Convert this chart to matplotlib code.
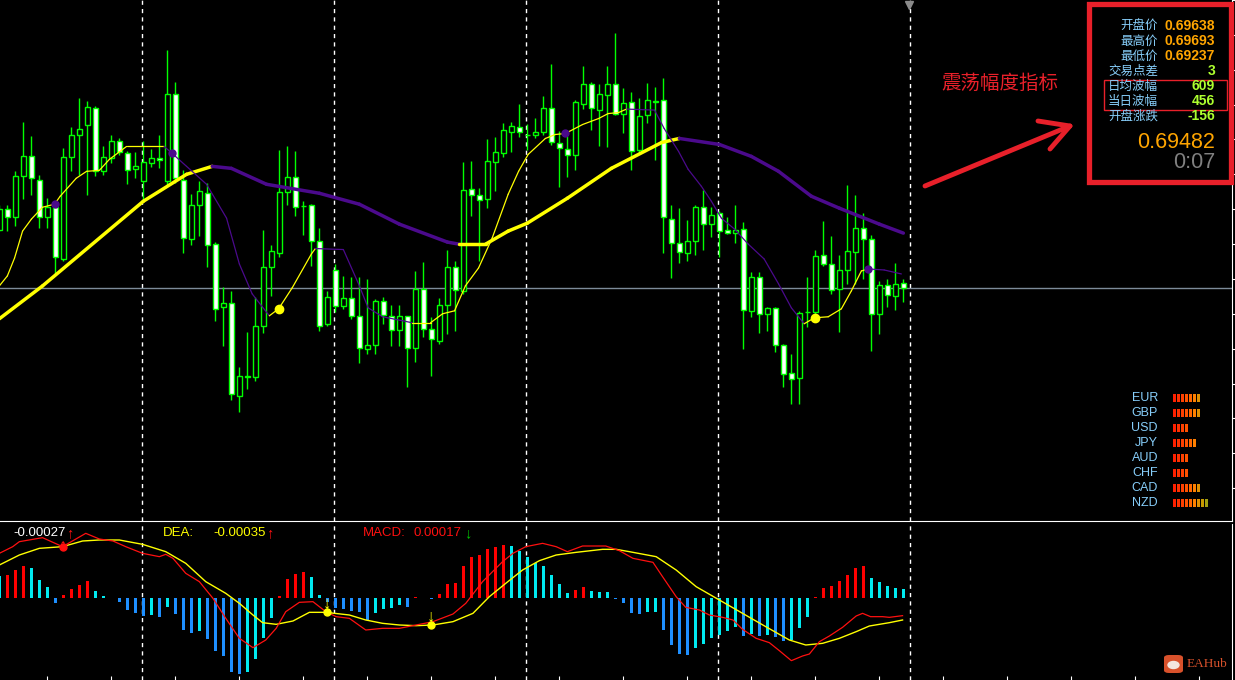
import matplotlib
matplotlib.use('Agg')
import matplotlib.pyplot as plt
import numpy as np
from matplotlib.collections import LineCollection
from matplotlib.patches import Rectangle, FancyBboxPatch, Ellipse

W, H = 1235, 680

# H1 candles, prices in points (1 point = 0.00001)
opens = [69599, 69641, 69625, 69707, 69747, 69699, 69624, 69645, 69541, 69745,
         69789, 69809, 69843, 69716, 69743, 69777, 69753, 69721, 69697, 69733,
         69743, 69696, 69871, 69699, 69581, 69648, 69673, 69571, 69443, 69451,
         69265, 69304, 69303, 69405, 69523, 69553, 69675, 69705, 69646, 69648,
         69577, 69409, 69517, 69445, 69461, 69425, 69359, 69367, 69455, 69426,
         69397, 69425, 69361, 69479, 69399, 69375, 69447, 69523, 69476, 69681,
         69669, 69661, 69735, 69753, 69795, 69805, 69788, 69789, 69795, 69843,
         69773, 69761, 69749, 69851, 69891, 69839, 69869, 69891, 69831, 69855,
         69759, 69829, 69856, 69859, 69621, 69573, 69553, 69577, 69645, 69611,
         69633, 69599, 69593, 69601, 69436, 69503, 69429, 69441, 69367, 69311,
         69301, 69433, 69433, 69549, 69529, 69479, 69517, 69555, 69603, 69581,
         69429, 69487, 69465, 69491]
highs = [69649, 69649, 69717, 69815, 69787, 69709, 69663, 69653, 69763, 69806,
         69863, 69857, 69848, 69766, 69789, 69783, 69756, 69755, 69776, 69761,
         69788, 69959, 69896, 69719, 69671, 69696, 69693, 69575, 69483, 69476,
         69323, 69393, 69463, 69599, 69569, 69759, 69766, 69756, 69657, 69651,
         69603, 69476, 69529, 69506, 69503, 69503, 69499, 69459, 69463, 69448,
         69448, 69426, 69516, 69534, 69424, 69461, 69559, 69536, 69735, 69737,
         69683, 69781, 69784, 69814, 69816, 69851, 69811, 69824, 69868, 69931,
         69796, 69786, 69859, 69928, 69896, 69891, 69928, 69993, 69884, 69876,
         69864, 69894, 69886, 69904, 69648, 69643, 69619, 69649, 69679, 69644,
         69636, 69624, 69649, 69614, 69513, 69514, 69444, 69443, 69369, 69349,
         69435, 69504, 69559, 69616, 69586, 69548, 69688, 69668, 69632, 69589,
         69496, 69499, 69531, 69499]
lows = [69596, 69596, 69607, 69661, 69669, 69603, 69603, 69509, 69536, 69716,
        69709, 69669, 69706, 69709, 69733, 69748, 69691, 69703, 69659, 69724,
        69723, 69689, 69693, 69553, 69569, 69586, 69523, 69416, 69366, 69256,
        69233, 69279, 69296, 69391, 69466, 69544, 69649, 69626, 69589, 69526,
        69396, 69406, 69433, 69439, 69419, 69331, 69349, 69349, 69409, 69366,
        69366, 69283, 69333, 69384, 69305, 69369, 69389, 69395, 69469, 69626,
        69536, 69643, 69676, 69744, 69755, 69784, 69759, 69783, 69789, 69769,
        69684, 69704, 69719, 69841, 69798, 69766, 69765, 69829, 69793, 69719,
        69753, 69813, 69739, 69553, 69501, 69531, 69537, 69549, 69559, 69585,
        69544, 69591, 69573, 69359, 69424, 69391, 69395, 69353, 69283, 69249,
        69249, 69403, 69423, 69526, 69469, 69393, 69489, 69489, 69499, 69355,
        69389, 69444, 69437, 69453]
closes = [69641, 69625, 69707, 69747, 69702, 69624, 69645, 69544, 69745, 69789,
          69801, 69845, 69716, 69745, 69777, 69755, 69719, 69727, 69734, 69743,
          69739, 69871, 69703, 69583, 69648, 69677, 69569, 69439, 69451, 69268,
          69305, 69304, 69406, 69523, 69556, 69674, 69704, 69645, 69647, 69577,
          69406, 69463, 69446, 69461, 69426, 69361, 69368, 69455, 69427, 69397,
          69425, 69361, 69479, 69399, 69379, 69447, 69523, 69477, 69679, 69669,
          69659, 69736, 69754, 69799, 69808, 69795, 69788, 69794, 69844, 69774,
          69763, 69749, 69856, 69891, 69843, 69872, 69891, 69831, 69854, 69757,
          69827, 69859, 69857, 69624, 69573, 69554, 69577, 69644, 69611, 69628,
          69597, 69593, 69599, 69437, 69503, 69429, 69441, 69367, 69309, 69299,
          69431, 69433, 69547, 69529, 69477, 69517, 69557, 69603, 69581, 69429,
          69487, 69467, 69489, 69482]
last_close = 69482

# slow and fast trend averages (bar index, points)
slow_x = [0, 5.4, 18, 23.4, 26.6, 29, 33.4, 40, 45, 50, 56, 57.4, 60.8, 63.6, 66,
          71, 76.5, 82.8, 85, 90, 94, 97.4, 101.5, 105, 110, 113]
slow_v = [69420, 69486, 69656, 69710, 69726, 69722, 69690, 69672, 69650, 69610,
          69574, 69570, 69570, 69596, 69612, 69662, 69722, 69774, 69782, 69770,
          69746, 69716, 69666, 69642, 69610, 69592]
fast_x = [0, 1, 1.9, 2.9, 4, 5.4, 6.9, 7.6, 9.6, 10.9, 12.5, 13.75, 15.9, 20.6,
          21.6, 23.4, 25.9, 28.4, 30, 31.6, 33.75, 34.9, 36.6, 39, 39.5, 43, 44.9,
          46.1, 47.9, 50.4, 51.6, 53.9, 55.4, 56.9, 58.25, 59.9, 61.6, 63.6, 64.9,
          66.1, 68.25, 69.5, 70.75, 72.9, 74.9, 76.1, 77.4, 78.4, 81.9, 83.1, 84.9,
          86.1, 87.75, 89, 90.25, 91.9, 93.6, 95.6, 97.4, 99, 100.6, 101.9, 103.6,
          105.25, 106.5, 107.75, 108.6, 110.6, 112.75]
fast_v = [69486, 69506, 69542, 69596, 69620, 69644, 69650, 69666, 69702, 69716,
          69718, 69740, 69766, 69766, 69752, 69726, 69690, 69622, 69530, 69470,
          69426, 69440, 69482, 69550, 69561, 69559, 69490, 69442, 69424, 69416,
          69412, 69412, 69430, 69436, 69486, 69522, 69582, 69670, 69716, 69750,
          69782, 69790, 69792, 69810, 69822, 69832, 69834, 69841, 69839, 69802,
          69756, 69720, 69686, 69656, 69622, 69600, 69570, 69540, 69490, 69442,
          69410, 69422, 69424, 69440, 69476, 69516, 69520, 69518, 69510]
turn_up_x = [34.9, 101.9]
turn_up_v = [69440, 69422]
turn_dn_x = [6.9, 21.6, 70.75, 108.6]
turn_dn_v = [69650, 69752, 69792, 69520]

# MACD panel, values in 1e-5
hist = [33, 34.5, 42, 48, 44.5, 27, 17, -7, 4.5, 13.5, 19.5, 25.5, 10.5, 3.5, 0.5,
        -6.5, -18, -22, -26.5, -25.5, -28, -13, -24.5, -48, -52, -49, -61.5, -79.5,
        -86.5, -110.5, -113.5, -110.5, -91.5, -59.5, -30.5, 3, 28.5, 35.5, 38.5,
        31.5, 4.5, -5.5, -14.5, -16.5, -19, -20.5, -33, -22, -16.5, -15.5, -10.5,
        -13.5, 2, -0.5, -1.5, 6, 20.5, 22, 48, 62, 64.5, 73.5, 76.5, 79.5, 78, 71,
        62, 53, 48, 34.5, 21, 8, 12, 16.5, 10.5, 9.5, 9.5, -1.5, -7, -22, -24,
        -20.5, -20.5, -48, -70.5, -84, -85.5, -74.5, -69, -59.5, -55.5, -49.5, -43,
        -57, -54, -57, -55.5, -58, -64, -63, -44.5, -28, 1, 14.5, 18, 25.5, 34.5,
        44.5, 48, 29.5, 24, 18, 15, 13.5]
dif_x = [0, 1.67, 2.5, 5.4, 7.9, 10.8, 12.5, 14.2, 15.8, 17.9, 20, 20.8, 21.7, 23.3,
         25, 26.7, 28.3, 30, 31.7, 33.3, 34.6, 35.8, 37.5, 39.2, 40.8, 42.1, 43.75,
         45.8, 47.9, 50, 52.1, 54.2, 56.7, 58.3, 60.4, 62.9, 64.2, 65.8, 67.9, 69.6,
         71, 72.9, 75.8, 77.5, 79.2, 81.7, 82.9, 84.6, 85.8, 87.5, 88.75, 90.4,
         91.7, 92.9, 94.6, 96.25, 97.5, 99, 100.4, 101.25, 102.5, 103.75, 105.4,
         107.1, 107.9, 108.9, 110.4, 111.25, 112.9]
dif_v = [67, 77, 84.5, 90.5, 77, 97, 88.5, 85.5, 77, 67, 62, 65.5, 59.5, 37, 24.5,
         -0.5, -30.5, -60.5, -74.5, -63, -45.5, -20.5, -6.5, -5.5, -20.5, -28,
         -30.5, -48, -45.5, -45.5, -40.5, -35.5, -24, -8, 24.5, 54.5, 67, 77, 82,
         77, 69.5, 78, 78, 71, 59.5, 53.5, 32, 2, -14, -18, -25.5, -29, -33, -47,
         -60.5, -67, -79, -94, -87, -84, -65.5, -57, -44, -27, -23, -28, -28, -29,
         -26.5]
dea_x = [0, 2.5, 5, 7.9, 10.4, 12.5, 15, 17.9, 20.8, 23.3, 25.8, 28.3, 30, 31.7,
         32.9, 34.6, 36.7, 38.75, 40.8, 43.75, 45.8, 47.9, 50, 52.1, 54.2, 56.7,
         59.2, 61.25, 63.3, 65.4, 67.5, 69.6, 72.1, 75.4, 77.1, 78.75, 82.1, 84.6,
         87.1, 90, 92.9, 95.8, 98.75, 100.8, 102.9, 105, 107.1, 108.75, 111.25,
         112.9]
dea_v = [49.5, 64.5, 74.5, 77, 85.5, 87, 87, 80.5, 69.5, 52, 24.5, 7, -8, -25.5,
         -37, -39.5, -34.5, -21.5, -21.5, -25.5, -33, -38, -40.5, -41.5, -40.5,
         -35.5, -23, 2, 22, 42, 56, 64.5, 68.5, 73, 73, 69.5, 62, 42, 17, -3, -23,
         -43, -63, -70.5, -68, -60.5, -50.5, -42, -37, -33]
cross_up = [(7.9, 77)]
cross_dn = [(40.9, -21), (53.9, -40.5)]

day_starts = [18, 42, 66, 90, 114]

info_labels = ['开盘价', '最高价', '最低价', '交易点差', '日均波幅', '当日波幅', '开盘涨跌']
info_values = ['0.69638', '0.69693', '0.69237', '3', '609', '456', '-156']
last_price = '0.69482'
bar_timer = '0:07'
currencies = ['EUR', 'GBP', 'USD', 'JPY', 'AUD', 'CHF', 'CAD', 'NZD']
strength = [7, 7, 4, 6, 4, 4, 7, 9]

GREEN = '#00ff00'
YEL = '#ffff00'
PURP = '#4b0a8c'
RED = '#e8202a'
CJK = ['Noto Sans CJK SC', 'DejaVu Sans']
ARIAL = ['Liberation Sans', 'DejaVu Sans']


def fx(x):
    return x / W


def fy(y):
    return 1 - y / H


fig = plt.figure(figsize=(W / 100, H / 100), dpi=100, facecolor='black')
ax = fig.add_axes([0, fy(521), 1232 / W, 521 / H], facecolor='black')
am = fig.add_axes([0, 0, 1232 / W, fy(524)], facecolor='black')

x0 = 0.08
for a in (ax, am):
    a.set_xlim(x0, x0 + 1232 / 8)
    for s in ('top', 'left'):
        a.spines[s].set_visible(False)
    a.spines['right'].set_color('white')
    a.set_xticks([])
    a.tick_params(colors='white', labelleft=False, labelright=False,
                  labelbottom=False, left=False)
    for d in day_starts:
        a.axvline(d - 0.15, color='white', lw=1, ls=(0, (3, 3)), zorder=1)

ax.set_ylim(69014 / 1e5, 70056 / 1e5)
ax.spines['bottom'].set_color('white')
ax.yaxis.tick_right()
ax.set_yticks(np.arange(69080, 70070, 70) / 1e5)
ax.tick_params(axis='y', right=True, direction='out', length=3, labelright=False)

# candles
o = np.array(opens) / 1e5
h = np.array(highs) / 1e5
l = np.array(lows) / 1e5
c = np.array(closes) / 1e5
xs = np.arange(len(o))
ax.axhline(last_close / 1e5, color='#7d8b99', lw=1, zorder=1.5)
ax.vlines(xs, l, h, color=GREEN, lw=1, zorder=2)
fill = ['black' if cc > oo else 'white' for oo, cc in zip(o, c)]
body = np.maximum(np.abs(c - o), 0.00001)
ax.bar(xs, body, width=0.62, bottom=np.minimum(o, c), color=fill,
       edgecolor=GREEN, linewidth=1, zorder=3)


def trend_line(a, x, v, lw):
    v = np.array(v) / 1e5
    pts = np.column_stack([x, v])
    segs = np.stack([pts[:-1], pts[1:]], axis=1)
    cols = [YEL if v[i + 1] >= v[i] else PURP for i in range(len(v) - 1)]
    a.add_collection(LineCollection(segs, colors=cols, linewidths=lw, zorder=4,
                                    capstyle='round'))


trend_line(ax, slow_x, slow_v, 2.5)
trend_line(ax, fast_x, fast_v, 0.9)
ax.plot(turn_up_x, np.array(turn_up_v) / 1e5, 'o', color=YEL, ms=6, zorder=5)
ax.plot(turn_dn_x, np.array(turn_dn_v) / 1e5, 'o', color=PURP, ms=5, zorder=5)
ax.plot([113.75], [70050 / 1e5], marker='v', color='#8a8a8a', ms=6,
        clip_on=False, zorder=6)

# MACD
am.set_ylim(-123e-5, 111e-5)
am.spines['bottom'].set_visible(False)
am.spines['top'].set_color('white')
am.set_yticks([])
am.set_xticks(np.arange(6, 154, 8) - 0.1)
am.tick_params(axis='x', bottom=True, direction='in', length=3, color='white')
hv = np.array(hist)
hcol = []
for i, v in enumerate(hv):
    prev = hv[i - 1] if i else v
    if v > 0:
        hcol.append('#ff0000' if v > prev else '#00eaf0')
    else:
        hcol.append('#1e8fff' if v < prev else '#00eaf0')
am.bar(xs, hv * 1e-5, width=0.4, color=hcol, zorder=2)
am.plot(dea_x, np.array(dea_v) * 1e-5, color=YEL, lw=1, zorder=3)
am.plot(dif_x, np.array(dif_v) * 1e-5, color='#ff1010', lw=0.9, zorder=3)
for bx, bv in cross_up:
    am.plot(bx, bv * 1e-5, 'o', color='#ff1010', ms=5, zorder=4)
    am.text(bx, bv * 1e-5, '↑', color='#ff1010', fontsize=12, ha='center',
            va='center', family=ARIAL, zorder=4)
for bx, bv in cross_dn:
    am.plot(bx, bv * 1e-5, 'o', color=YEL, ms=5, zorder=4)
    am.text(bx, bv * 1e-5, '↓', color=YEL, fontsize=12, ha='center',
            va='bottom', family=ARIAL, fontweight='bold', zorder=4)

ty = fy(533)
fig.text(fx(13), ty, '-0.00027', color='white', fontsize=9.5, family=ARIAL, va='center')
fig.text(fx(66), ty, '↑', color='#ff1010', fontsize=10.5, family=ARIAL, va='center')
fig.text(fx(163), ty, 'DEA:', color=YEL, fontsize=9.5, family=ARIAL, va='center')
fig.text(fx(213), ty, '-0.00035', color=YEL, fontsize=9.5, family=ARIAL, va='center')
fig.text(fx(266), ty, '↑', color='#ff1010', fontsize=10.5, family=ARIAL, va='center')
fig.text(fx(363), ty, 'MACD:', color='#ff1010', fontsize=9.5, family=ARIAL, va='center')
fig.text(fx(413), ty, '0.00017', color='#ff1010', fontsize=9.5, family=ARIAL, va='center')
fig.text(fx(464), ty, '↓', color='#00c000', fontsize=10.5, family=ARIAL, va='center')

# info box
fig.add_artist(Rectangle((fx(1089), fy(182)), 142 / W, 178 / H, fill=False,
                         edgecolor=RED, lw=3.8, transform=fig.transFigure))
fig.add_artist(Rectangle((fx(1104), fy(110)), 123 / W, 30 / H, fill=False,
                         edgecolor=RED, lw=1, transform=fig.transFigure))
for k, (lab, val) in enumerate(zip(info_labels, info_values)):
    yy = fy(26 + 15 * k)
    fig.text(fx(1158), yy, lab, color='#87cefa', fontsize=9, family=CJK,
             ha='right', va='center')
    fig.text(fx(1215), yy, val, color='#ffa500' if k < 3 else '#adff2f',
             fontsize=10, fontweight='bold', family=ARIAL, ha='right', va='center')
fig.text(fx(1215), fy(143), last_price, color='#ffa500', fontsize=15.5,
         family=ARIAL, ha='right', va='center')
fig.text(fx(1215), fy(163), bar_timer, color='#808080', fontsize=15.5,
         family=ARIAL, ha='right', va='center')

# annotation
fig.text(fx(1000), fy(83), '震荡幅度指标', color=RED, fontsize=14, family=CJK,
         ha='center', va='center')
fig.add_artist(plt.Line2D([fx(925), fx(1070)], [fy(186), fy(126)], color=RED,
                          lw=3.5, solid_capstyle='round', transform=fig.transFigure))
fig.add_artist(plt.Line2D([fx(1038), fx(1070), fx(1050)], [fy(121), fy(126), fy(149)],
                          color=RED, lw=3.5, solid_capstyle='round',
                          solid_joinstyle='round', transform=fig.transFigure))

# currency strength
palette = ['#ff2000', '#ff3000', '#ff4000', '#ff5200', '#ff6800', '#ff8000',
           '#e09000', '#c89a00', '#a0a010']
for k, (cur, n) in enumerate(zip(currencies, strength)):
    yy = 398 + 15 * k
    fig.text(fx(1158), fy(yy), cur, color='#87cefa', fontsize=9, family=ARIAL,
             ha='right', va='center')
    for j in range(n):
        fig.add_artist(Rectangle((fx(1173 + 4 * j), fy(yy + 4)), 2.8 / W, 8 / H,
                                 color=palette[j], lw=0, transform=fig.transFigure))

# logo
fig.add_artist(FancyBboxPatch((fx(1164), fy(673)), 19 / W, 18 / H,
                              boxstyle='round,pad=0,rounding_size=0.004',
                              color='#d8512b', lw=0, transform=fig.transFigure))
fig.add_artist(Ellipse((fx(1173.5), fy(665)), 11 / W, 7 / H, color='#f3e6df',
                       transform=fig.transFigure))
fig.text(fx(1187), fy(664), 'EAHub', color='#d8512b', fontsize=9.5,
         family=['Liberation Serif', 'DejaVu Serif'], va='center')

fig.savefig('out.png', dpi=100, facecolor='black')
